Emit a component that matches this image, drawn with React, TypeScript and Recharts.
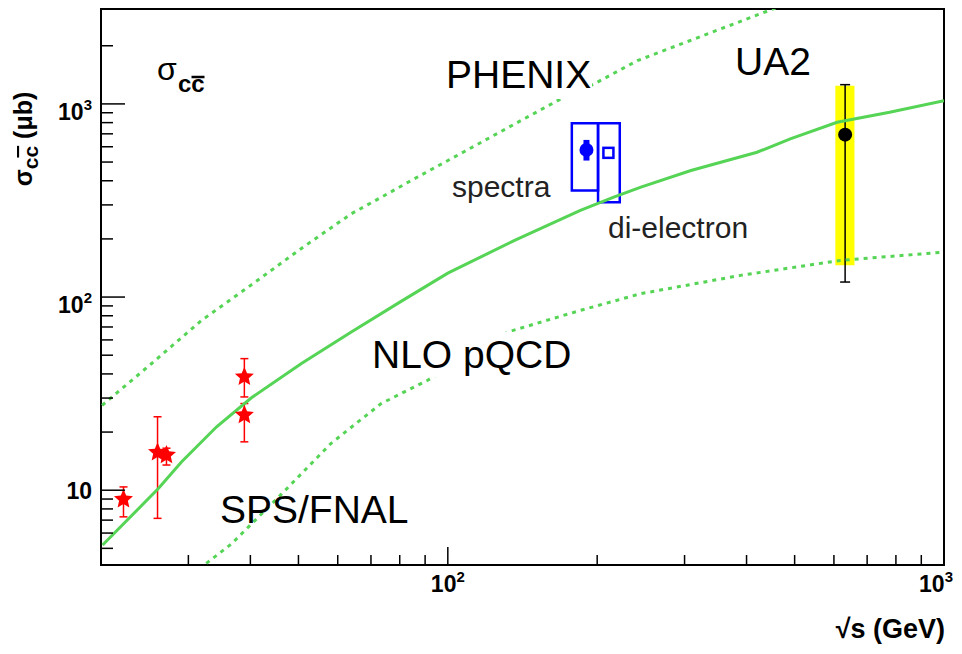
import React from 'react';
import { ComposedChart, Scatter, XAxis, YAxis, ReferenceArea, ErrorBar } from 'recharts';

const FONT = '"Liberation Sans", Arial, Helvetica, sans-serif';
const GREEN = '#55d455';

const W = 946;
const H = 638;

const X_MIN = 20;
const X_MAX = 1000;
const Y_MIN = 4.1;
const Y_MAX = 3100;

// NLO pQCD central curve (sqrt(s) in GeV, sigma in mub)
const nloEnergy = [20.15, 26.1, 29.05, 34.2, 40.2, 50.7, 63.9, 80.5, 100, 136, 185, 216, 245, 309, 420, 490, 609, 777, 1000];
const nloSigma = [5.2, 10.2, 14.0, 21.3, 30.1, 45.3, 66, 95, 133, 196, 281, 329, 371, 452, 562, 659, 803, 905, 1040];

// NLO upper / lower bands (dotted)
const upperEnergy = [20.1, 25.3, 31.9, 39.6, 50.6, 63.9, 73.5, 85.6, 108, 136, 166.4, 197.2, 241, 457.5];
const upperSigma = [27.5, 45.3, 75.8, 112.6, 178, 270, 329, 409.5, 567, 784, 1040, 1269, 1675, 3136];
const lowerEnergy = [32.6, 36.6, 46.2, 58.2, 73.4, 91.1, 132, 185.3, 244.7, 389, 618, 1000];
const lowerSigma = [4.18, 5.26, 9.54, 17.5, 28.1, 37.1, 65.9, 85.4, 104.1, 129.5, 154.8, 170.9];

// SPS / FNAL
const spsEnergy = [22.2, 26.0, 27.1, 38.9, 38.9];
const spsSigma = [8.97, 15.7, 15.2, 38.6, 24.5];
const spsLow = [7.28, 7.15, 13.5, 30.4, 17.8];
const spsHigh = [10.4, 24.0, 16.5, 48.0, 28.1];

// PHENIX: spectra, di-electron
const phenixEnergy = [190.3, 210.7];
const phenixSigma = [578, 558];
const phenixStatLow = [509, 558];
const phenixStatHigh = [651, 558];
const phenixBoxLeft = [177.8, 200.8];
const phenixBoxRight = [200.8, 222.1];
const phenixBoxLow = [356, 310];
const phenixBoxHigh = [794, 794];

// UA2
const ua2Energy = [632];
const ua2Sigma = [693];
const ua2Low = [119.6];
const ua2High = [1258];
const ua2BoxLeft = [604];
const ua2BoxRight = [660];
const ua2BoxLow = [146];
const ua2BoxHigh = [1243];

const xTicks = [30, 40, 50, 60, 70, 80, 90, 100, 200, 300, 400, 500, 600, 700, 800, 900, 1000];
const yTicks = [5, 6, 7, 8, 9, 10, 20, 30, 40, 50, 60, 70, 80, 90, 100, 200, 300, 400, 500, 600, 700, 800, 900, 1000, 2000];
const decadeExp: Record<number, string> = { 10: '', 100: '2', 1000: '3' };

const toPoints = (xs: number[], ys: number[]) => xs.map((x, i) => ({ x, y: ys[i] }));
const withErr = (xs: number[], ys: number[], lo: number[], hi: number[]) =>
  xs.map((x, i) => ({ x, y: ys[i], err: [ys[i] - lo[i], hi[i] - ys[i]] }));

const nloPoints = toPoints(nloEnergy, nloSigma);
const upperPoints = toPoints(upperEnergy, upperSigma);
const lowerPoints = toPoints(lowerEnergy, lowerSigma);
const spsPoints = withErr(spsEnergy, spsSigma, spsLow, spsHigh);
const spectraPoints = withErr(phenixEnergy.slice(0, 1), phenixSigma.slice(0, 1), phenixStatLow, phenixStatHigh);
const dielectronPoints = toPoints(phenixEnergy.slice(1), phenixSigma.slice(1));
const ua2Points = withErr(ua2Energy, ua2Sigma, ua2Low, ua2High);

const Nothing = () => <g />;

function Star(props: any) {
  const { cx, cy } = props;
  const pts: string[] = [];
  for (let i = 0; i < 10; i++) {
    const r = i % 2 === 0 ? 10 : 4.6;
    const a = -Math.PI / 2 + (i * Math.PI) / 5;
    pts.push(`${cx + r * Math.cos(a)},${cy + r * Math.sin(a)}`);
  }
  return <polygon points={pts.join(' ')} fill="#ff0000" />;
}

function OpenSquare(props: any) {
  const { cx, cy } = props;
  return <rect x={cx - 5} y={cy - 5} width={10} height={10} fill="#fff" stroke="#0000ff" strokeWidth={2.5} />;
}

function Dot(color: string, r: number) {
  return (props: any) => <circle cx={props.cx} cy={props.cy} r={r} fill={color} />;
}

function YTick(props: any) {
  const { x, y, payload } = props;
  const v = payload.value;
  const exp = decadeExp[v];
  const major = exp !== undefined;
  return (
    <g>
      <line x1={x} x2={x + (major ? 24 : 12)} y1={y} y2={y} stroke="#000" strokeWidth={1.5} />
      {major && (
        <text x={x - 9} y={y + (exp ? 16 : 9)} textAnchor="end" fontSize={23} fontWeight="bold" fontFamily={FONT} fill="#000">
          10
          {exp && (
            <tspan dy={-10} fontSize={15}>
              {exp}
            </tspan>
          )}
        </text>
      )}
    </g>
  );
}

function XTick(props: any) {
  const { x, y, payload } = props;
  const v = payload.value;
  const exp = decadeExp[v];
  const major = exp !== undefined;
  // keep the last label inside the page
  const atEdge = x + 18 > W;
  return (
    <g>
      <line x1={x} x2={x} y1={y} y2={y - (major ? 18 : 10)} stroke="#000" strokeWidth={1.5} />
      {major && (
        <text
          x={atEdge ? W - 1 : x}
          y={y + 27}
          textAnchor={atEdge ? 'end' : 'middle'}
          fontSize={23}
          fontWeight="bold"
          fontFamily={FONT}
          fill="#000"
        >
          10
          <tspan dy={-10} fontSize={15}>
            {exp}
          </tspan>
        </text>
      )}
    </g>
  );
}

export default function App() {
  return (
    <div style={{ position: 'relative', width: W, height: H, fontFamily: FONT }}>
      <ComposedChart width={W} height={H} margin={{ top: 1, right: 10, bottom: 0, left: 0 }}>
        <XAxis
          type="number"
          dataKey="x"
          scale="log"
          domain={[X_MIN, X_MAX]}
          allowDataOverflow
          ticks={xTicks}
          interval={0}
          tickSize={0}
          tickMargin={0}
          axisLine={false}
          height={81}
          tick={(p: any) => <XTick {...p} />}
        />
        <YAxis
          type="number"
          dataKey="y"
          scale="log"
          domain={[Y_MIN, Y_MAX]}
          allowDataOverflow
          ticks={yTicks}
          interval={0}
          tickSize={0}
          tickMargin={0}
          axisLine={false}
          width={93}
          tick={(p: any) => <YTick {...p} />}
        />
        <ReferenceArea
          x1={ua2BoxLeft[0]}
          x2={ua2BoxRight[0]}
          y1={ua2BoxLow[0]}
          y2={ua2BoxHigh[0]}
          fill="#ffff00"
          fillOpacity={1}
          stroke="none"
        />
        {phenixBoxLeft.map((x1, i) => (
          <ReferenceArea
            key={i}
            x1={x1}
            x2={phenixBoxRight[i]}
            y1={phenixBoxLow[i]}
            y2={phenixBoxHigh[i]}
            fill="none"
            stroke="#0000ff"
            strokeWidth={2.5}
          />
        ))}
        <ReferenceArea x1={X_MIN} x2={X_MAX} y1={Y_MIN} y2={Y_MAX} fill="none" stroke="#000" strokeWidth={2} />
        <Scatter
          data={upperPoints}
          fill={GREEN}
          line={{ stroke: GREEN, strokeWidth: 3, strokeDasharray: '4 5' }}
          shape={Nothing}
          isAnimationActive={false}
        />
        <Scatter
          data={lowerPoints}
          fill={GREEN}
          line={{ stroke: GREEN, strokeWidth: 3, strokeDasharray: '4 5' }}
          shape={Nothing}
          isAnimationActive={false}
        />
        <Scatter data={nloPoints} fill={GREEN} line={{ stroke: GREEN, strokeWidth: 3 }} shape={Nothing} isAnimationActive={false} />
        <Scatter data={spsPoints} fill="#ff0000" shape={Star} isAnimationActive={false}>
          <ErrorBar dataKey="err" direction="y" width={4} stroke="#ff0000" strokeWidth={1.5} />
        </Scatter>
        <Scatter data={spectraPoints} fill="#0000ff" shape={Dot('#0000ff', 7)} isAnimationActive={false}>
          <ErrorBar dataKey="err" direction="y" width={0} stroke="#0000ff" strokeWidth={6} />
        </Scatter>
        <Scatter data={dielectronPoints} fill="#0000ff" shape={OpenSquare} isAnimationActive={false} />
        <Scatter data={ua2Points} fill="#000" shape={Dot('#000', 7)} isAnimationActive={false}>
          <ErrorBar dataKey="err" direction="y" width={5} stroke="#000" strokeWidth={1.5} />
        </Scatter>
      </ComposedChart>
      <svg width={W} height={H} style={{ position: 'absolute', left: 0, top: 0, pointerEvents: 'none' }}>
        <rect x={432} y={42} width={152} height={49} fill="#fff" />
        <rect x={358} y={324} width={210} height={45} fill="#fff" />
        <g fontFamily={FONT} fill="#000">
          <text x={149} y={72} fontSize={32}>
            σ
          </text>
          <text x={170} y={84} fontSize={24} fontWeight="bold">
            cc
          </text>
          <line x1={183.5} x2={196.5} y1={69} y2={69} stroke="#000" strokeWidth={2.5} />
          <text x={438} y={80} fontSize={39}>
            PHENIX
          </text>
          <text x={727} y={67} fontSize={39}>
            UA2
          </text>
          <text x={444} y={189} fontSize={30} fill="#222">
            spectra
          </text>
          <text x={600} y={230} fontSize={30} fill="#222">
            di-electron
          </text>
          <text x={364} y={360} fontSize={39}>
            NLO pQCD
          </text>
          <text x={212} y={515} fontSize={39}>
            SPS/FNAL
          </text>
          <text x={937} y={630} fontSize={27} fontWeight="bold" textAnchor="end">
            √s (GeV)
          </text>
          <text transform="translate(24,131) rotate(-90)" fontSize={25} fontWeight="bold" textAnchor="middle">
            σ
            <tspan dy={6} fontSize={21}>
              c
            </tspan>
            <tspan fontSize={21} textDecoration="overline">
              c
            </tspan>
            <tspan dy={-6}> (μb)</tspan>
          </text>
        </g>
      </svg>
    </div>
  );
}
